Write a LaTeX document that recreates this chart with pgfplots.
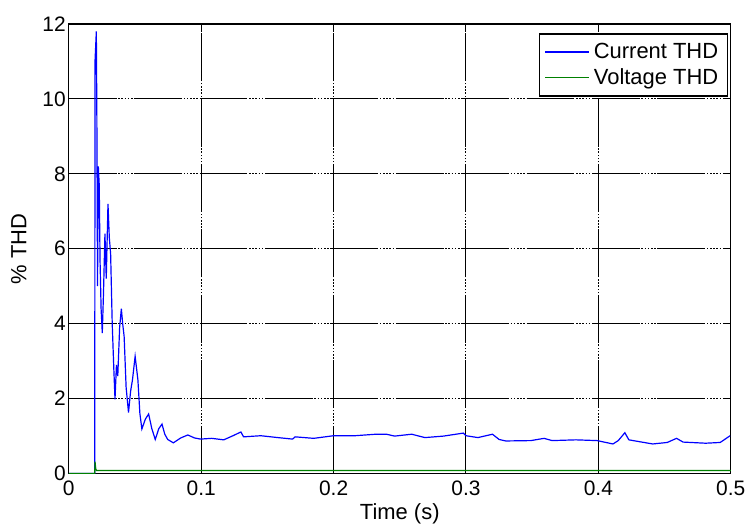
\documentclass[border=0pt]{standalone}
\usepackage{fontspec}
\setmainfont{Liberation Sans}
\usepackage{pgfplots}
\pgfplotsset{compat=1.18}
\definecolor{mblue}{RGB}{0,0,255}
\definecolor{mgreen}{RGB}{0,128,0}
\begin{document}
\begin{tikzpicture}
\begin{axis}[
  name=ax,
  scale only axis, width=332pt, height=225.5pt,
  xmin=0, xmax=0.5, ymin=0, ymax=12,
  xtick={0,0.1,...,0.5}, ytick={0,2,...,12},
  xticklabels={0,0.1,0.2,0.3,0.4,0.5},
  tick align=inside, major tick length=3pt,
  tick pos=both,
  axis line style={black, line width=0.6pt},
  tick style={black, line width=0.5pt},
  grid=major,
  major grid style={black, line width=0.5pt, dash pattern=on 24pt off 0.8pt on 0.8pt off 0.8pt on 0.8pt off 0.8pt on 0.8pt off 0.8pt on 0.8pt off 0.8pt on 0.8pt off 0.8pt},
  /pgf/number format/assume math mode=true,
  ticklabel style={font=\fontsize{10.5}{12}\selectfont},
  yticklabel style={xshift=2pt},
  xlabel={Time (s)}, ylabel={\% THD},
  label style={font=\fontsize{11}{13}\selectfont},
  xlabel style={at={(axis description cs:0.5,-0.0887)},anchor=center},
  ylabel style={at={(axis description cs:-0.0753,0.5)},anchor=center},
  legend style={at={(rel axis cs:0.9955,0.979)}, anchor=north east, draw=black, line width=0.6pt, font=\fontsize{11}{13}\selectfont, row sep=-0.5pt, inner sep=2.5pt},
  legend cell align=left,
  legend image code/.code={\draw[#1, line width=0.8pt] (0.05cm,0cm) -- (0.82cm,0cm);},
]
\addplot[mblue, line width=0.6pt] coordinates {
(0,0) (0.0196,0) (0.0198,11.0) (0.0208,11.8) (0.0212,9.5) (0.0217,5.0) (0.0223,8.2) (0.0230,7.7) (0.0236,5.7) (0.0244,4.4) (0.0253,3.75) (0.0262,4.8) (0.0273,6.4) (0.0283,5.2) (0.0296,7.2) (0.0306,6.3) (0.0316,5.86) (0.0328,4.0) (0.0340,2.8) (0.0349,1.98) (0.0360,2.9) (0.0370,2.6) (0.0384,3.9) (0.0397,4.4) (0.0407,4.0) (0.0418,3.66) (0.0433,2.3) (0.0451,1.63) (0.0467,2.2) (0.0481,2.5) (0.0501,3.13) (0.0522,2.5) (0.0537,1.6) (0.0552,1.19) (0.0578,1.45) (0.0603,1.59) (0.0627,1.2) (0.0653,0.91) (0.0680,1.2) (0.0704,1.32) (0.0725,1.05) (0.0747,0.91) (0.0790,0.82) (0.0845,0.95) (0.0899,1.03) (0.0950,0.95)
(0.0995,0.92) (0.108,0.94) (0.117,0.90) (0.124,1.01) (0.130,1.11) (0.132,0.98) (0.145,1.01) (0.158,0.96) (0.169,0.92) (0.171,0.98) (0.185,0.94) (0.200,1.01) (0.216,1.01) (0.232,1.05) (0.240,1.05) (0.246,1.00) (0.259,1.05) (0.269,0.96) (0.283,1.00) (0.298,1.08) (0.300,1.01) (0.309,0.96) (0.320,1.05) (0.325,0.91) (0.330,0.87) (0.349,0.88) (0.359,0.94) (0.365,0.88) (0.383,0.90) (0.399,0.88) (0.411,0.79) (0.415,0.88) (0.420,1.09) (0.423,0.90) (0.441,0.79) (0.452,0.83) (0.459,0.94) (0.464,0.84) (0.481,0.81) (0.492,0.83) (0.4995,1.01)
};
\addlegendentry{Current THD}
\addplot[mgreen, line width=0.6pt] coordinates {
(0,0) (0.0196,0) (0.0198,0.32) (0.0204,0.12) (0.0210,0.08) (0.5,0.08)
};
\addlegendentry{Voltage THD}
\end{axis}
\path ([shift={(-34.5pt,-26pt)}]ax.south west) rectangle ([shift={(9.5pt,12pt)}]ax.north east);
\end{tikzpicture}
\end{document}
